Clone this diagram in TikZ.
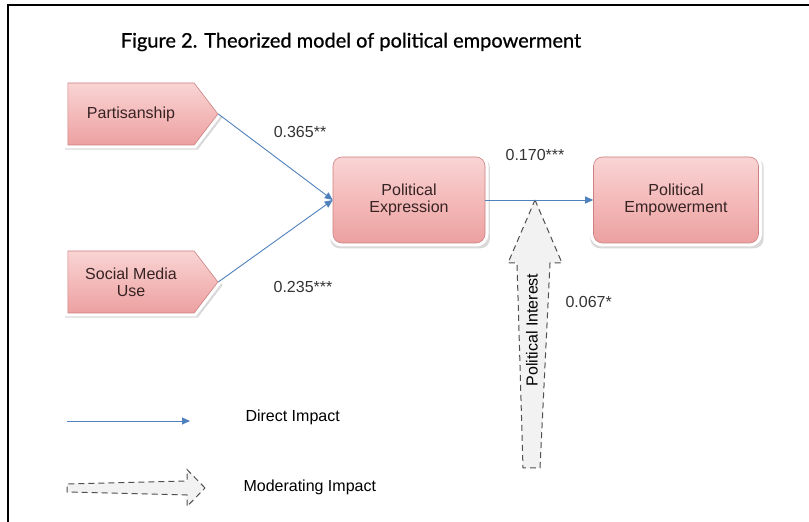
\documentclass[tikz,border=0pt]{standalone}
\usepackage{fontspec}
\setmainfont{Liberation Sans}
\newfontfamily\ttlfont[FakeBold=0.7]{Lato}
\usepackage{xcolor}
\usetikzlibrary{backgrounds}
\usetikzlibrary{shapes.symbols}
\usetikzlibrary{shadows}
\usetikzlibrary{arrows.meta}
\definecolor{BoxTop}{RGB}{249,212,212}
\definecolor{BoxMid}{RGB}{244,186,186}
\definecolor{BoxBot}{RGB}{236,160,160}
\definecolor{BoxEdge}{RGB}{204,128,128}
\definecolor{BoxText}{RGB}{55,35,35}
\definecolor{LinkBlue}{RGB}{79,129,189}
\definecolor{ModFill}{RGB}{242,242,242}
\definecolor{ModEdge}{RGB}{80,80,80}
\newcommand{\factwd}{150pt}
\newcommand{\factht}{62pt}
\newcommand{\hubwd}{152pt}
\newcommand{\hubht}{86pt}
\newcommand{\modx}{535}
\newcommand{\linky}{322}
\tikzset{
  pinkbox/.style={top color=BoxTop, bottom color=BoxBot, middle color=BoxMid,
    draw=BoxEdge, line width=0.6pt, text=BoxText, align=center,
    drop shadow={shadow xshift=1pt, shadow yshift=-3pt, opacity=0.3,
      shadow scale=1.05},
    preaction={draw=white, line width=7pt}},
  factor/.style={pinkbox, signal, signal to=east, signal pointer angle=105,
    minimum width=\factwd, minimum height=\factht},
  hub/.style={pinkbox, rectangle, rounded corners=9pt,
    minimum width=\hubwd, minimum height=\hubht},
  direct/.style={draw=LinkBlue, line width=0.9pt,
    -{Triangle[length=8pt,width=7pt]}},
  modarrow/.style={draw=ModEdge, fill=ModFill, line width=1pt,
    dash pattern=on 6pt off 4pt, line join=miter},
  coef/.style={text=black!80}
}
\begin{document}
\begin{tikzpicture}[x=1pt,y=1pt,font=\fontsize{16}{17}\selectfont]
    \useasboundingbox (0,0) rectangle (809,522);
    \draw[line width=1.5pt] (8,0) -- (8,517) -- (809,517);

    \node (ttl) at (351,480)
      {\ttlfont\fontsize{20}{23}\selectfont Figure 2. Theorized model of political empowerment};

    % factors and outcomes
    \node[factor] (part) at (131,408) {Partisanship};
    \node[factor] (socm) at (131,240) {Social Media\\Use};
    \node[hub] (expr) at (409,\linky) {Political\\Expression};
    \node[hub, minimum width=165pt] (empw) at (676,\linky)
      {Political\\Empowerment};

    % moderator
    \begin{scope}[on background layer]
      \draw[modarrow] (\modx,\linky) -- (562,259) -- (550,259) -- (540,54)
        -- (523,54) -- (517,259) -- (508,259) -- cycle;
    \end{scope}
    \node[rotate=90] (pint) at (532,192) {Political Interest};

    \draw[direct] (part.east) -- (expr.west);
    \draw[direct] (socm.east) -- (expr.west);
    \draw[direct] (expr.east) -- (empw.west);

    \node[coef] (cpart) at (300,390) {0.365**};
    \node[coef] (csocm) at (303,235) {0.235***};
    \node[coef] (cexpr) at (\modx,367) {0.170***};
    \node[coef, anchor=west] (cpint) at (562,220) {0.067*};

    % legend
    \coordinate (dla) at (67,101);
    \coordinate (dlb) at (190,101);
    \draw[direct] (dla) -- (dlb);
    \node[anchor=west] (dlt) at (242,105) {Direct Impact};
    \draw[modarrow] (205,34) -- (187,52.5) -- (187,41) -- (67,38)
      -- (67,30) -- (187,27) -- (187,15.5) -- cycle;
    \node[anchor=west] (mlt) at (240,35) {Moderating Impact};
\end{tikzpicture}
\end{document}
